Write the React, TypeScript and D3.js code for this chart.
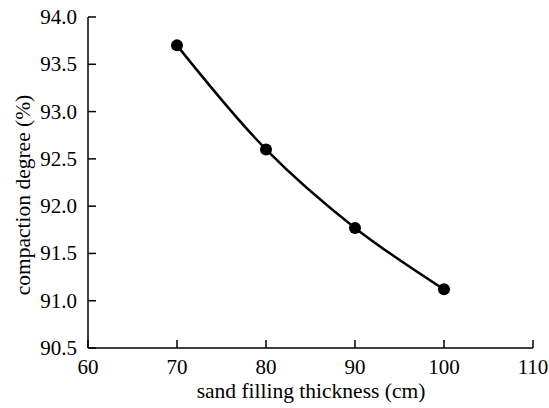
import React from "react";
import * as d3 from "d3";

const thickness = [70, 80, 90, 100];
const compaction = [93.7, 92.6, 91.77, 91.12];
const xTicks = [60, 70, 80, 90, 100, 110];
const yTicks = [90.5, 91.0, 91.5, 92.0, 92.5, 93.0, 93.5, 94.0];

const font = "\"Liberation Serif\", \"Times New Roman\", Times, serif";

export default function App() {
  const W = 549, H = 408;
  const x = d3.scaleLinear().domain([60, 110]).range([88, 533]);
  const y = d3.scaleLinear().domain([90.5, 94.0]).range([348, 17]);
  const pts: [number, number][] = thickness.map((t, i) => [x(t), y(compaction[i])]);
  const line = d3.line().curve(d3.curveCatmullRom.alpha(0.5))(pts) || "";
  const ts = { fontFamily: font };
  return (
    <svg width={W} height={H} style={{ position: "absolute", left: 0, top: 0, background: "#fff" }}>
      <line x1={x(60)} x2={x(110)} y1={y(90.5)} y2={y(90.5)} stroke="#000" strokeWidth={1.5} />
      <line x1={x(60)} x2={x(60)} y1={y(90.5)} y2={y(94)} stroke="#000" strokeWidth={1.5} />
      {xTicks.map((t) => (
        <g key={"x" + t}>
          <line x1={x(t)} x2={x(t)} y1={y(90.5)} y2={y(90.5) - 8} stroke="#000" strokeWidth={1.5} />
          <text x={x(t)} y={374} textAnchor="middle" fontSize={21} style={ts}>{t}</text>
        </g>
      ))}
      {yTicks.map((t) => (
        <g key={"y" + t}>
          <line x1={x(60)} x2={x(60) + 8} y1={y(t)} y2={y(t)} stroke="#000" strokeWidth={1.5} />
          <text x={77} y={y(t) + 7} textAnchor="end" fontSize={21} style={ts}>{t.toFixed(1)}</text>
        </g>
      ))}
      <path d={line} fill="none" stroke="#000" strokeWidth={2.5} />
      {pts.map((p, i) => (
        <circle key={i} cx={p[0]} cy={p[1]} r={6} fill="#000" />
      ))}
      <text x={311} y={398} textAnchor="middle" fontSize={21.5} style={ts}>sand filling thickness (cm)</text>
      <text transform={`translate(30, 195) rotate(-90)`} textAnchor="middle" fontSize={21.5} style={ts}>compaction degree (%)</text>
    </svg>
  );
}
